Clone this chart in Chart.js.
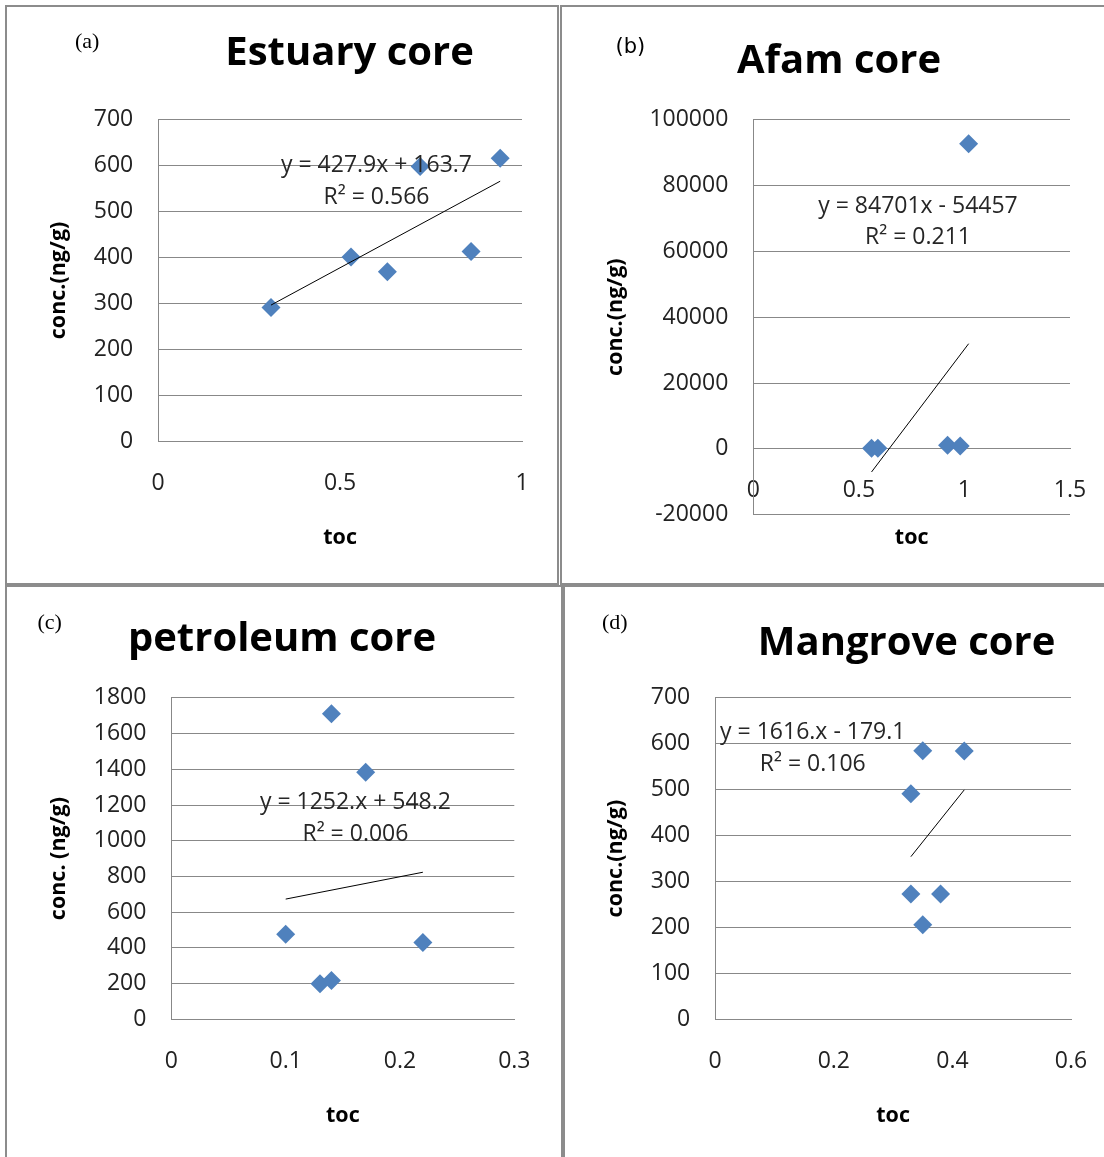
<!DOCTYPE html>
<html>
<head>
<meta charset="utf-8">
<script src="https://cdn.jsdelivr.net/npm/chart.js@4.4.1/dist/chart.umd.min.js"></script>
<style>
    html, body { margin: 0; padding: 0; background: #fff; width: 1104px; height: 1157px; overflow: hidden; }
    .panel { position: absolute; box-sizing: border-box; border: 2px solid #8c8c8c; background: #fff; overflow: hidden; }
    .panel canvas { position: absolute; left: 0; top: 0; }
</style>
</head>
<body>
<div class="panel" style="left:5px;top:5px;width:554px;height:580px"><canvas id="chartA" width="550" height="576"></canvas></div>
<div class="panel" style="left:560px;top:5px;width:560px;height:580px"><canvas id="chartB" width="556" height="576"></canvas></div>
<div class="panel" style="left:5px;top:585px;width:558px;height:590px"><canvas id="chartC" width="554" height="586"></canvas></div>
<div class="panel" style="left:563px;top:585px;width:560px;height:590px"><canvas id="chartD" width="556" height="586"></canvas></div>

<script>
// 1. DATA (toc vs concentration)
const estuaryToc   = [0.31, 0.53, 0.63, 0.72, 0.86, 0.94];
const estuaryConc  = [291, 401, 369, 598, 413, 616];
const afamToc      = [0.56, 0.59, 0.92, 0.98, 1.02];
const afamConc     = [150, 200, 1100, 900, 92700];
const petroToc     = [0.10, 0.13, 0.14, 0.14, 0.17, 0.22];
const petroConc    = [476, 200, 218, 1711, 1384, 430];
const mangroveToc  = [0.35, 0.42, 0.33, 0.33, 0.38, 0.35];
const mangroveConc = [585, 584, 491, 273, 273, 206];

// trendline coefficients as printed on each panel
const trendSlope     = [427.9, 84701, 1252, 1616];
const trendIntercept = [163.7, -54457, 548.2, -179.1];
const trendLabels = [
    ["y = 427.9x + 163.7", "R\u00b2 = 0.566"],
    ["y = 84701x - 54457", "R\u00b2 = 0.211"],
    ["y = 1252.x + 548.2", "R\u00b2 = 0.006"],
    ["y = 1616.x - 179.1", "R\u00b2 = 0.106"]
];

const panelTags   = ["(a)", "(b)", "(c)", "(d)"];
const panelTitles = ["Estuary core", "Afam core", "petroleum core", "Mangrove core"];
const yTitles     = ["conc.(ng/g)", "conc.(ng/g)", "conc. (ng/g)", "conc.(ng/g)"];

// axis ranges: [min, max, step]
const xRanges = [[0, 1, 0.5], [0, 1.5, 0.5], [0, 0.3, 0.1], [0, 0.6, 0.2]];
const yRanges = [[0, 700, 100], [-20000, 100000, 20000], [0, 1800, 200], [0, 700, 100]];

// 2. LAYOUT PER PANEL (canvas-local pixels)
const GRID = '#888888';
const BLUE = '#4F81BD';

const layouts = [
    { id: 'chartA', padL: 39.1, yW: 112.1, top: 112.6, padR: 35,   xH: 109.9, padB: 31.8, xAtZero: false,
      tagFont: '22px "Liberation Serif"', tagPos: [68, 35], titlePos: [342.6, 57.7], eqAt: [0.60, 600] },
    { id: 'chartB', padL: 40.6, yW: 150.7, top: 112.6, padR: 48,   xH: 102.1, padB: 68.3, xAtZero: true,
      tagFont: '21px "DejaVu Sans"', tagPos: [53.5, 41], titlePos: [277, 66.4], eqAt: [0.78, 73760] },
    { id: 'chartC', padL: 39.1, yW: 125.3, top: 110.8, padR: 46.7, xH: 108.9, padB: 44.7, xAtZero: false,
      tagFont: '22px "Liberation Serif"', tagPos: [30.5, 36], titlePos: [275, 63.7], eqAt: [0.161, 1213] },
    { id: 'chartD', padL: 37.6, yW: 112.6, top: 110.8, padR: 50,   xH: 108.9, padB: 44.7, xAtZero: false,
      tagFont: '22px "Liberation Serif"', tagPos: [37, 36.4], titlePos: [341.6, 68.4], eqAt: [0.1645, 624] }
];

const series = [
    [estuaryToc, estuaryConc],
    [afamToc, afamConc],
    [petroToc, petroConc],
    [mangroveToc, mangroveConc]
];

// 3. TEXT OVERLAY: panel tag, big title, trendline equation
const panelText = {
    id: 'panelText',
    afterDraw(chart, args, opts) {
        const ctx = chart.ctx;
        const xs = chart.scales.x, ys = chart.scales.y;
        ctx.save();
        ctx.fillStyle = '#000';
        ctx.font = opts.tagFont;
        ctx.textAlign = 'left';
        ctx.textBaseline = 'middle';
        ctx.fillText(opts.tag, opts.tagPos[0], opts.tagPos[1]);

        ctx.font = 'bold 40px "Open Sans"';
        ctx.textAlign = 'center';
        ctx.textBaseline = 'alphabetic';
        ctx.fillText(opts.title, opts.titlePos[0], opts.titlePos[1]);

        ctx.font = '23px "Open Sans"';
        ctx.fillStyle = '#262626';
        ctx.textBaseline = 'middle';
        const px = xs.getPixelForValue(opts.eqAt[0]);
        const py = ys.getPixelForValue(opts.eqAt[1]);
        ctx.fillText(opts.eq[0], px, py);
        ctx.fillText(opts.eq[1], px, py + 31.5);
        ctx.restore();
    }
};

const tickFont = { family: 'Open Sans', size: 23 };
const axisTitleFont = { family: 'Open Sans', size: 21.5, weight: 'bold' };

function buildChart(i) {
    const L = layouts[i];
    const [toc, conc] = series[i];
    const points = toc.map((t, k) => ({ x: t, y: conc[k] }));
    const lo = Math.min(...toc), hi = Math.max(...toc);
    const trend = [lo, hi].map(t => ({ x: t, y: trendSlope[i] * t + trendIntercept[i] }));
    const canvas = document.getElementById(L.id);

    return new Chart(canvas, {
        type: 'scatter',
        data: {
            datasets: [
                { data: trend, showLine: true, borderColor: '#000', borderWidth: 1, pointRadius: 0, fill: false },
                { data: points, pointStyle: 'rectRot', pointRadius: 9.5, backgroundColor: BLUE, borderColor: BLUE, borderWidth: 0 }
            ]
        },
        options: {
            responsive: false,
            animation: false,
            events: [],
            layout: {
                padding: { left: L.padL, top: L.top, right: L.padR, bottom: L.padB }
            },
            plugins: {
                legend: { display: false },
                tooltip: { enabled: false },
                title: { display: false },
                panelText: {
                    tag: panelTags[i], tagFont: L.tagFont, tagPos: L.tagPos,
                    title: panelTitles[i], titlePos: L.titlePos,
                    eq: trendLabels[i], eqAt: L.eqAt
                }
            },
            scales: {
                x: {
                    type: 'linear',
                    position: L.xAtZero ? { y: 0 } : 'bottom',
                    min: xRanges[i][0], max: xRanges[i][1],
                    ticks: { stepSize: xRanges[i][2], padding: 28.2, color: '#222', font: tickFont, maxRotation: 0,
                             callback: v => String(+v.toFixed(2)) },
                    grid: { display: false, drawTicks: false },
                    border: { display: true, color: GRID },
                    title: { display: true, text: 'toc', color: '#000', font: axisTitleFont, padding: 0 },
                    afterFit: s => { s.height = L.xH; }
                },
                y: {
                    type: 'linear',
                    position: 'left',
                    min: yRanges[i][0], max: yRanges[i][1],
                    ticks: { stepSize: yRanges[i][2], padding: 25, color: '#222', font: tickFont,
                             callback: v => String(v) },
                    grid: { color: GRID, drawTicks: false, lineWidth: 1 },
                    border: { display: true, color: GRID },
                    title: { display: true, text: yTitles[i], color: '#000', font: axisTitleFont, padding: 0 },
                    afterFit: s => { s.width = L.yW; }
                }
            }
        },
        plugins: [panelText]
    });
}

const fontsReady = Promise.all([
    document.fonts.load('bold 40px "Open Sans"'),
    document.fonts.load('23px "Open Sans"'),
    document.fonts.load('bold 21.5px "Open Sans"'),
    document.fonts.load('21px "DejaVu Sans"'),
    document.fonts.load('22px "Liberation Serif"')
]).catch(() => null);

fontsReady.then(() => {
    layouts.forEach((_, i) => buildChart(i));
});
</script>
</body>
</html>
